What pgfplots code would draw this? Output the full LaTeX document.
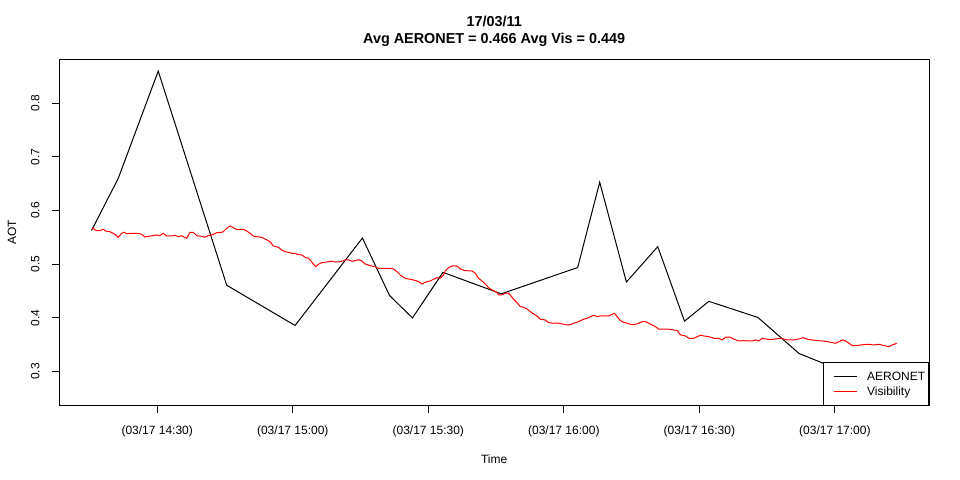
\documentclass[border=0pt]{standalone}
\usepackage{pgfplots}
\pgfplotsset{compat=1.18}
\usepackage{fontspec}
\setmainfont{Liberation Sans}

% x = minutes after 14:00 on 17/03/11
\pgfplotstableread{
t      aot
15.46  0.563
21.36  0.660
30.22  0.860
45.38  0.461
60.51  0.386
75.42  0.549
81.41  0.442
86.50  0.400
93.24  0.485
106.16 0.445
123.06 0.494
127.94 0.653
133.85 0.467
140.79 0.533
146.71 0.394
152.09 0.431
162.95 0.401
172.03 0.334
193.00 0.262
}\aeronet

\pgfplotstableread{
t      aot
15.60 0.5683
15.97 0.5658
16.57 0.5627
17.30 0.5627
18.03 0.5653
18.57 0.5621
19.52 0.5608
20.25 0.5578
21.00 0.5534
21.36 0.5504
22.11 0.5578
22.69 0.5597
23.22 0.5571
24.33 0.5578
25.79 0.5578
26.54 0.5560
27.27 0.5509
28.01 0.5522
29.11 0.5534
29.87 0.5547
30.60 0.5534
31.33 0.5578
32.08 0.5528
33.19 0.5528
33.92 0.5541
34.65 0.5515
35.41 0.5534
36.14 0.5496
36.51 0.5485
37.25 0.5597
37.98 0.5597
38.73 0.5534
39.84 0.5522
40.57 0.5504
41.30 0.5534
42.05 0.5547
43.16 0.5589
44.27 0.5597
44.62 0.5608
45.38 0.5671
46.11 0.5714
46.71 0.5690
47.44 0.5653
48.32 0.5653
49.06 0.5653
49.81 0.5621
50.54 0.5578
51.27 0.5528
52.03 0.5515
53.13 0.5504
53.86 0.5472
54.97 0.5422
55.70 0.5342
56.81 0.5317
57.56 0.5267
58.30 0.5235
59.03 0.5224
59.78 0.5206
60.51 0.5206
61.24 0.5180
62.00 0.5174
62.73 0.5131
63.46 0.5113
63.99 0.5068
64.57 0.5001
65.10 0.4956
65.67 0.5001
66.43 0.5031
67.54 0.5044
68.64 0.5057
69.38 0.5044
70.11 0.5044
70.86 0.5057
71.59 0.5081
72.32 0.5081
73.08 0.5057
73.81 0.5068
74.54 0.5086
75.29 0.5062
76.02 0.5006
77.13 0.4975
78.24 0.4956
78.97 0.4926
80.45 0.4926
81.56 0.4926
82.29 0.4913
83.05 0.4863
83.78 0.4801
84.89 0.4740
85.62 0.4727
86.72 0.4708
87.48 0.4690
88.21 0.4658
88.59 0.4634
89.32 0.4665
90.43 0.4690
91.16 0.4721
91.91 0.4751
92.64 0.4740
93.37 0.4801
93.75 0.4876
94.48 0.4937
95.23 0.4969
96.34 0.4969
97.07 0.4913
98.18 0.4882
99.67 0.4876
100.40 0.4833
101.13 0.4740
101.88 0.4690
102.61 0.4634
103.34 0.4565
104.10 0.4522
104.45 0.4509
105.20 0.4472
105.56 0.4429
106.31 0.4429
107.04 0.4461
107.78 0.4461
108.15 0.4429
108.88 0.4349
109.64 0.4285
110.37 0.4211
111.10 0.4200
111.85 0.4168
112.58 0.4118
113.32 0.4075
114.07 0.4038
114.80 0.3976
115.91 0.3963
116.64 0.3913
117.75 0.3902
118.86 0.3902
119.61 0.3889
120.72 0.3870
121.45 0.3876
122.18 0.3902
122.93 0.3920
123.66 0.3950
124.39 0.3976
125.15 0.3995
125.88 0.4025
126.61 0.4051
127.36 0.4025
128.09 0.4038
129.20 0.4038
129.93 0.4038
130.69 0.4069
131.20 0.4088
131.80 0.4025
132.53 0.3950
133.26 0.3920
134.01 0.3902
134.37 0.3889
135.12 0.3876
136.23 0.3889
137.33 0.3931
138.07 0.3931
138.80 0.3902
139.55 0.3870
140.28 0.3838
141.01 0.3790
142.12 0.3790
143.23 0.3790
144.34 0.3777
145.09 0.3764
145.82 0.3684
146.93 0.3665
147.66 0.3622
148.77 0.3622
149.52 0.3652
150.25 0.3678
150.98 0.3665
152.09 0.3652
153.20 0.3622
154.31 0.3622
155.06 0.3591
155.79 0.3641
156.90 0.3641
157.63 0.3604
158.74 0.3572
159.85 0.3578
160.60 0.3572
161.71 0.3572
162.44 0.3591
163.17 0.3572
163.92 0.3622
164.65 0.3609
165.76 0.3596
166.87 0.3609
167.98 0.3622
169.46 0.3591
170.93 0.3591
172.03 0.3609
173.01 0.3633
173.90 0.3604
175.00 0.3591
176.11 0.3578
177.22 0.3572
178.33 0.3559
179.44 0.3540
180.17 0.3529
180.90 0.3559
181.65 0.3591
182.38 0.3572
183.11 0.3529
183.87 0.3484
184.97 0.3484
185.71 0.3497
187.19 0.3510
188.65 0.3497
189.76 0.3510
190.87 0.3484
191.98 0.3466
192.73 0.3497
193.68 0.3529
}\visibility

\begin{document}
\begin{tikzpicture}
\begin{axis}[
    name=ax,
    scale only axis,
    width=652.3pt, height=260pt,
    xmin=8.33, xmax=200.83,
    ymin=0.236, ymax=0.882,
    axis line style={line width=0.75pt},
    tick style={black, line width=0.75pt},
    tick align=outside,
    major tick length=5.25pt,
    xtick={30,60,90,120,150,180},
    xticklabels={(03/17 14:30),(03/17 15:00),(03/17 15:30),(03/17 16:00),(03/17 16:30),(03/17 17:00)},
    ytick={0.3,0.4,0.5,0.6,0.7,0.8},
    yticklabels={0.3,0.4,0.5,0.6,0.7,0.8},
    xtick pos=bottom, ytick pos=left,
    ticklabel style={font=\fontsize{9}{11}\selectfont},
    xticklabel style={anchor=base},
    xticklabel shift=16.4pt,
    yticklabel style={rotate=90, anchor=base},
    yticklabel shift=9.8pt,
    legend style={
      at={(1,0)}, anchor=south east,
      draw=black, fill=white, line width=0.75pt,
      font=\fontsize{9}{11}\selectfont,
      inner xsep=2.5pt, inner ysep=4.7pt,
      row sep=0pt, column sep=7.5pt,
      nodes={inner sep=0pt, text height=8.5pt, text depth=2.75pt},
      legend cell align=left,
    },
    legend image code/.code={\path (0pt,0pt); \draw[#1] (4.5pt,0pt) -- (21.75pt,0pt);},
]
\addplot[black, line width=0.75pt] table[x=t, y=aot] {\aeronet};
\addlegendentry{AERONET}
\addplot[red, line width=0.75pt] table[x=t, y=aot] {\visibility};
\addlegendentry{Visibility}
\end{axis}
\node[anchor=base, font=\bfseries\fontsize{10.8}{13}\selectfont] at ([yshift=24.3pt]ax.north) {17/03/11};
\node[anchor=base, font=\bfseries\fontsize{10.8}{13}\selectfont] at ([yshift=12.1pt]ax.north) {Avg AERONET = 0.466 Avg Vis = 0.449};
\node[rotate=90, font=\fontsize{9}{11}\selectfont] at ([xshift=-35.5pt]ax.west) {AOT};
\node[font=\fontsize{9}{11}\selectfont] at ([yshift=-39.75pt]ax.south) {Time};
\path ([xshift=-44.5pt,yshift=-55.5pt]ax.south west) rectangle ([xshift=23.25pt,yshift=44.5pt]ax.north east);
\end{tikzpicture}
\end{document}
